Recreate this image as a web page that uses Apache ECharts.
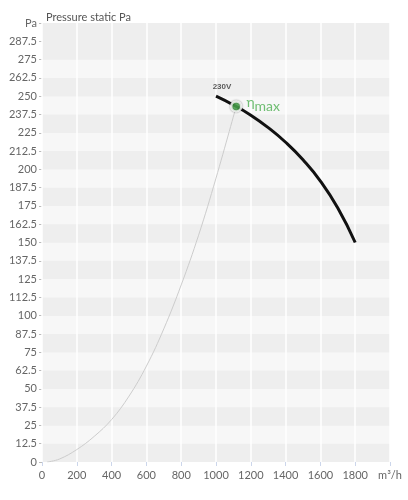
<!DOCTYPE html>
<html>
<head>
<meta charset="utf-8">
<script src="https://cdn.jsdelivr.net/npm/echarts@6/dist/echarts.min.js"></script>
<style>
html,body{margin:0;padding:0;background:#fff;}
#chart{width:408px;height:500px;}
</style>
</head>
<body>
<div id="chart"></div>
<script>
// Fan curve (230V)
const fanFlow = [1000, 1100, 1200, 1300, 1400, 1500, 1600, 1700, 1800];
const fanPressure = [250, 244, 237, 228.5, 218.5, 206.5, 192, 173.5, 150];
// System curve
const sysFlow = [30, 100, 200, 300, 400, 500, 600, 700, 800, 900, 1000, 1116];
const sysPressure = [0, 2, 8.5, 17.5, 29, 45, 65.5, 91, 121, 155, 194, 243];
// Max efficiency point
const etaFlow = [1116];
const etaPressure = [243];
const curveLabel = '230V';
// Axis ticks
const xTicks = [0, 200, 400, 600, 800, 1000, 1200, 1400, 1600, 1800, 2000];
const yTickStep = 12.5;
const yMax = 300;

const bandColors = [];
for (let i = 0; i < yMax / yTickStep; i++) {
  bandColors.push(i % 2 === 0 ? '#eeeeee' : '#f7f7f7');
}
bandColors[bandColors.length - 1] = '#eeeeee';

const chart = echarts.init(document.getElementById('chart'), null, {renderer: 'canvas'});
const font = 'Lato, "Open Sans", sans-serif';
const green = '#4caf50';

chart.setOption({
  animation: false,
  textStyle: {fontFamily: font},
  title: {
    text: 'Pressure static Pa',
    left: 41, top: 7,
    textStyle: {fontSize: 11, fontWeight: 'normal', color: '#555', fontFamily: font}
  },
  grid: {left: 42, right: 18, top: 23, bottom: 38, show: true, backgroundColor: '#eeeeee', borderWidth: 0},
  xAxis: {
    type: 'value', min: xTicks[0], max: xTicks[xTicks.length - 1], interval: 200, z: 1,
    axisLine: {show: false},
    axisTick: {show: true, length: 4, lineStyle: {color: '#ccd6eb'}},
    axisLabel: {
      color: '#666', fontSize: 11, margin: 8, fontFamily: font,
      formatter: v => v === xTicks[xTicks.length - 1] ? 'm³/h' : String(v)
    },
    splitLine: {show: true, lineStyle: {color: '#ffffff', width: 1.5}},
    splitArea: {show: false}
  },
  yAxis: {
    type: 'value', min: 0, max: yMax, interval: yTickStep, z: 0,
    axisLine: {show: false},
    axisTick: {show: true, length: 3, lineStyle: {color: '#bbb'}},
    axisLabel: {
      color: '#666', fontSize: 11, margin: 5, fontFamily: font,
      formatter: v => v === yMax ? 'Pa' : String(v)
    },
    splitLine: {show: false},
    splitArea: {show: true, areaStyle: {color: bandColors}}
  },
  series: [
    {
      type: 'line', name: 'system', smooth: 0.4, showSymbol: false, z: 3,
      data: sysFlow.map((q, i) => [q, sysPressure[i]]),
      lineStyle: {color: '#cccccc', width: 1}
    },
    {
      type: 'line', name: 'fan', smooth: 0.5, showSymbol: false, z: 4,
      data: fanFlow.map((q, i) => [q, fanPressure[i]]),
      lineStyle: {color: '#111111', width: 3}
    },
    {
      type: 'scatter', name: 'curveLabel', z: 7, symbolSize: 2, silent: true,
      data: [[fanFlow[0], fanPressure[0]]],
      itemStyle: {color: 'rgba(0,0,0,0)'},
      label: {show: true, formatter: curveLabel, position: 'top', distance: 4, offset: [6, 0],
        fontSize: 8, fontWeight: 'bold', color: '#333', fontFamily: 'Arial, sans-serif'}
    },
    {
      type: 'scatter', name: 'eta', z: 6, symbolSize: 10,
      data: etaFlow.map((q, i) => [q, etaPressure[i]]),
      itemStyle: {color: green, borderColor: '#ffffff', borderWidth: 2.5,
        shadowBlur: 2, shadowColor: 'rgba(0,0,0,0.45)'},
      label: {
        show: true, position: 'right', distance: 4, offset: [0, -4],
        formatter: '{e|η}{m|max}',
        rich: {
          e: {fontSize: 14, color: green, fontFamily: font},
          m: {fontSize: 14, color: green, fontFamily: font, padding: [8, 0, 0, 0]}
        }
      }
    }
  ]
});
</script>
</body>
</html>
